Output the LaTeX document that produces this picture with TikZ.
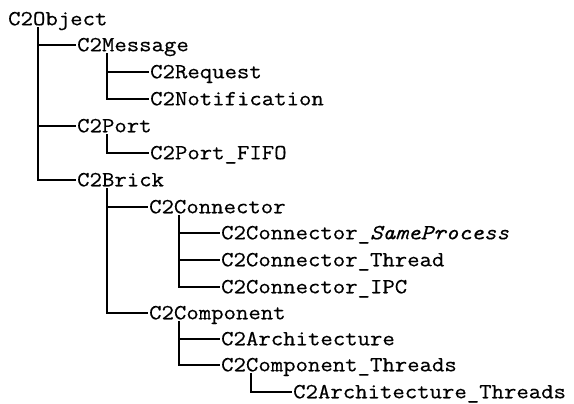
\documentclass[tikz,border=0pt]{standalone}
\usepackage{fontspec}
\setmonofont{Latin Modern Mono}[FakeStretch=1.12,FakeBold=0.5]
\usetikzlibrary{calc}
\begin{document}
\begin{tikzpicture}[x=1pt,y=-1pt,
  cls/.style={anchor=west,inner sep=0pt,font=\ttfamily\fontsize{21.5}{24}\selectfont,text height=12.5pt,text depth=0pt},
  link/.style={line width=1.8pt}]
\useasboundingbox (0,0) rectangle (574,404);
\node[cls] (obj)    at (8,19)   {C2Object};
\node[cls] (msg)    at (77,45)  {C2Message};
\node[cls] (req)    at (150,72) {C2Request};
\node[cls] (notif)  at (150,99) {C2Notification};
\node[cls] (port)   at (77,126) {C2Port};
\node[cls] (fifo)   at (150,153) {C2Port\_FIFO};
\node[cls] (brick)  at (77,180) {C2Brick};
\node[cls] (conn)   at (149,207) {C2Connector};
\node[cls] (same)   at (221,233) {C2Connector\_\textit{SameProcess}};
\node[cls] (thread) at (221,260) {C2Connector\_Thread};
\node[cls] (ipc)    at (221,287) {C2Connector\_IPC};
\node[cls] (comp)   at (149,313) {C2Component};
\node[cls] (arch)   at (221,339) {C2Architecture};
\node[cls] (compth) at (221,365) {C2Component\_Threads};
\node[cls] (archth) at (293,392) {C2Architecture\_Threads};
\foreach \p/\c in {obj/msg,obj/port,obj/brick,msg/req,msg/notif,port/fifo,brick/conn,brick/comp,conn/same,conn/thread,conn/ipc,comp/arch,comp/compth,compth/archth}
  \draw[link] ($(\p.south west)+(30,2)$) |- ([xshift=-1pt]\c.west);
\end{tikzpicture}
\end{document}
